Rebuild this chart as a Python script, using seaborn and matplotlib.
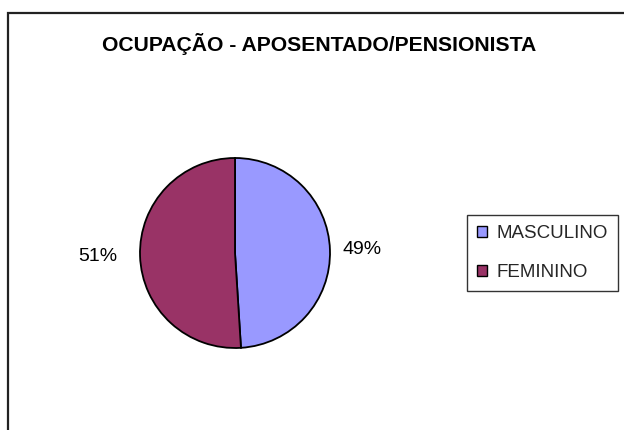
import matplotlib
matplotlib.use("Agg")
import matplotlib.pyplot as plt
from matplotlib.patches import Patch, Rectangle
import numpy as np
import seaborn as sns

# data
categories = ["MASCULINO", "FEMININO"]
values = [49, 51]
slice_colors = ["#9999FF", "#993366"]
title = "OCUPAÇÃO - APOSENTADO/PENSIONISTA"

sns.set_theme(style="white")
plt.rcParams["font.family"] = ["Liberation Sans", "DejaVu Sans"]

W, H = 624, 430
fig = plt.figure(figsize=(W / 100, H / 100), dpi=100)
fig.patch.set_facecolor("white")

# outer chart frame (right and bottom edges fall outside the picture)
fig.patches.append(Rectangle((8 / W, -0.2), 1.5, 1.2 - 13 / H,
                             transform=fig.transFigure, fill=False,
                             edgecolor="#222222", linewidth=1.6))

fig.text(319 / W, 1 - 44 / H, title, ha="center", va="center",
         fontsize=15.2, fontweight="bold", color="black")

# pie axes: centre (235, 253) px, radius 95 px
cx, cy, r = 235, 253, 95
ax = fig.add_axes([(cx - r) / W, (H - cy - r) / H, 2 * r / W, 2 * r / H])
total = sum(values)
pct_labels = [f"{v / total * 100:.0f}%" for v in values]
wedges, texts = ax.pie(values, colors=slice_colors, startangle=90,
                       counterclock=False, labels=pct_labels,
                       labeldistance=1.15,
                       wedgeprops=dict(edgecolor="black", linewidth=1.3),
                       textprops=dict(fontsize=14, color="black"))
# Excel-style label placement: left label sits a bit further out
for txt, w, dist in zip(texts, wedges, [1.13, 1.24]):
    ang = np.deg2rad((w.theta1 + w.theta2) / 2)
    txt.set_position((dist * np.cos(ang), dist * np.sin(ang)))
ax.set_xlim(-1, 1)
ax.set_ylim(-1, 1)
ax.set_aspect("equal")
ax.axis("off")

handles = [Patch(facecolor=c, edgecolor="black", linewidth=1.0)
           for c in slice_colors]
leg = fig.legend(handles, categories, loc="upper left",
                 bbox_to_anchor=(467 / W, 1 - 215 / H), borderaxespad=0,
                 frameon=True, fancybox=False, fontsize=13.5,
                 handlelength=0.5, handleheight=0.5, handletextpad=0.5,
                 labelspacing=1.15, borderpad=0.55)
leg.get_frame().set_edgecolor("black")
leg.get_frame().set_linewidth(1.0)

fig.savefig("out.png", dpi=100)
